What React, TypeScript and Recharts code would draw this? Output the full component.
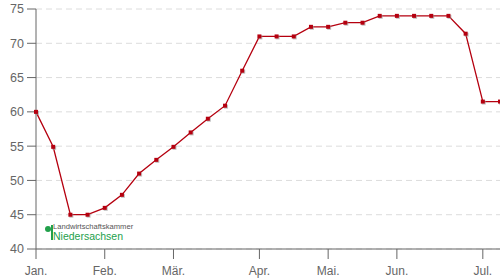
import { LineChart, Line, XAxis, YAxis, CartesianGrid } from 'recharts'

// weekly index (0 = first week of Jan.)
const weeks = [
  0, 1, 2, 3, 4, 5, 6, 7, 8, 9, 10, 11, 12, 13, 14, 15, 16, 17, 18, 19, 20, 21, 22, 23, 24,
  25, 26, 27,
]
const prices = [
  60, 54.9, 45, 45, 46, 47.9, 51, 53, 54.9, 57, 59, 60.9, 66, 71, 71, 71, 72.4, 72.4, 73, 73,
  74, 74, 74, 74, 74, 71.4, 61.5, 61.5,
]
const monthTicks = [0, 4, 8, 13, 17, 21, 26]
const monthLabels = ['Jan.', 'Feb.', 'Mär.', 'Apr.', 'Mai.', 'Jun.', 'Jul.']
const yTicks = [40, 45, 50, 55, 60, 65, 70, 75]

const LINE = '#b5000f'
const AXIS = '#666'
const GREEN = '#22a04b'
const FONT = '"Liberation Sans", Arial, sans-serif'

const data = weeks.map((w, i) => ({ week: w, price: prices[i] }))

function SquareDot(props: any) {
  const { cx, cy, index } = props
  if (cx == null || cy == null) return null
  return (
    <g key={index}>
      <rect x={cx - 1} y={cy - 1} width={4} height={4} fill="#999" opacity={0.6} />
      <rect x={cx - 2} y={cy - 2} width={4} height={4} fill={LINE} />
    </g>
  )
}

function App() {
  return (
    <div style={{ position: 'absolute', left: 0, top: 0, width: 500, height: 280, fontFamily: FONT }}>
      <LineChart width={500} height={280} data={data} margin={{ top: 9, right: 0, bottom: 0, left: 0 }}>
        <CartesianGrid vertical={false} stroke="#dcdcdc" strokeDasharray="6 4" />
        <XAxis
          dataKey="week"
          type="number"
          domain={[0, 27]}
          ticks={monthTicks}
          tickFormatter={(v: number) => monthLabels[monthTicks.indexOf(v)] ?? ''}
          height={31}
          tickSize={10}
          tickMargin={7}
          stroke={AXIS}
          tick={{ fill: '#666', fontSize: 12, fontFamily: FONT }}
          interval={0}
        />
        <YAxis
          domain={[40, 75]}
          ticks={yTicks}
          width={36}
          tickSize={9}
          tickMargin={3}
          stroke={AXIS}
          tick={{ fill: '#666', fontSize: 12.5, fontFamily: FONT }}
          interval={0}
        />
        <Line
          type="linear"
          dataKey="price"
          stroke={LINE}
          strokeWidth={1.3}
          dot={SquareDot}
          activeDot={false}
          isAnimationActive={false}
        />
      </LineChart>
      <div style={{ position: 'absolute', left: 45, top: 223, lineHeight: 1 }}>
        <span
          style={{
            position: 'absolute',
            left: 0,
            top: 3,
            width: 6,
            height: 6,
            borderRadius: 3,
            background: GREEN,
          }}
        />
        <span style={{ position: 'absolute', left: 6, top: 2, width: 1.5, height: 15, background: GREEN }} />
        <div style={{ position: 'absolute', left: 8, top: 0, fontSize: 7.6, color: '#555', whiteSpace: 'nowrap' }}>
          Landwirtschaftskammer
        </div>
        <div
          style={{
            position: 'absolute',
            left: 8,
            top: 8,
            fontSize: 10.5,
            color: GREEN,
            whiteSpace: 'nowrap',
          }}
        >
          Niedersachsen
        </div>
      </div>
    </div>
  )
}

export default App
